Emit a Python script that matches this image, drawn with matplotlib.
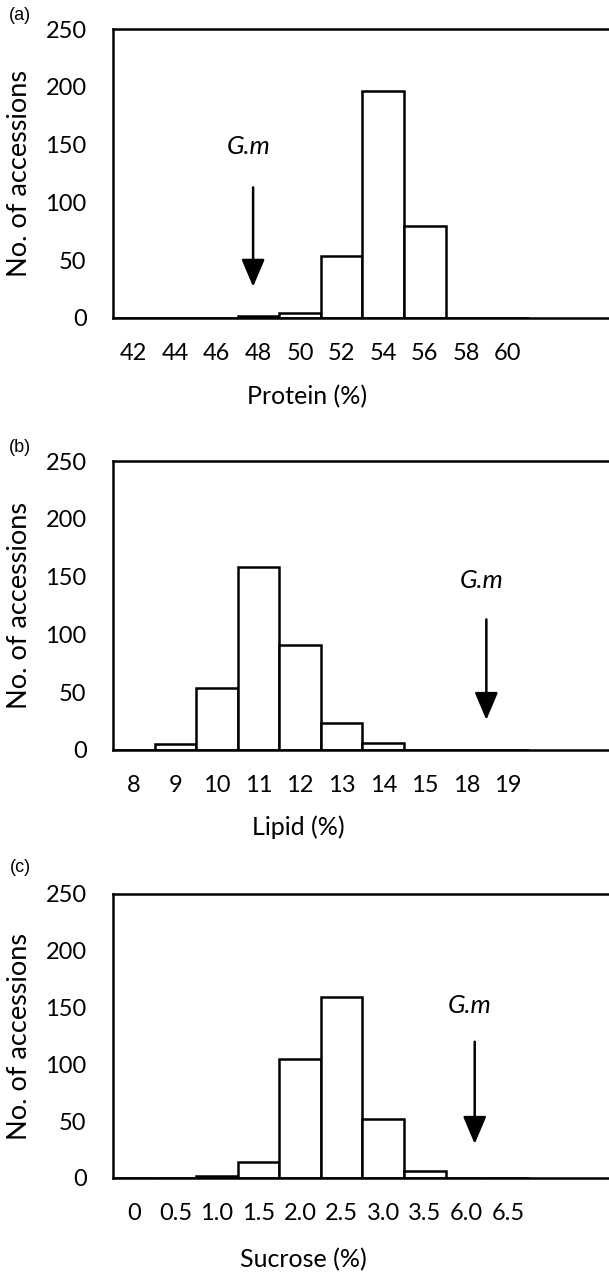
import matplotlib
matplotlib.use("Agg")
import matplotlib.pyplot as plt
import numpy as np

plt.rcParams["font.family"] = ["Lato", "DejaVu Sans"]

# panel data (histogram counts per class)
protein_labels = ["42", "44", "46", "48", "50", "52", "54", "56", "58", "60"]
protein_counts = [0, 0, 0, 1.5, 4.5, 54, 196, 80, 0, 0]

lipid_labels = ["8", "9", "10", "11", "12", "13", "14", "15", "18", "19"]
lipid_counts = [0, 5, 54, 158, 91, 23, 6, 0, 0, 0]

sucrose_labels = ["0", "0.5", "1.0", "1.5", "2.0", "2.5", "3.0", "3.5", "6.0", "6.5"]
sucrose_counts = [0, 0, 1.5, 14.5, 105, 159, 52, 6, 0, 0]

# G.m arrow: x position (class index), arrow top, arrow tip, text height
gm_protein = (2.87, 113, 27, 148)
gm_lipid = (8.48, 113, 26, 147)
gm_sucrose = (8.2, 120, 30, 152)

W, H = 609, 1277
fig = plt.figure(figsize=(W / 100, H / 100), dpi=100)

panels = [
    ("(a)", protein_labels, protein_counts, "Protein (%)", gm_protein, 29, 318, 15, 307, 0.232),
    ("(b)", lipid_labels, lipid_counts, "Lipid (%)", gm_lipid, 461, 750, 448, 298, 0.228),
    ("(c)", sucrose_labels, sucrose_counts, "Sucrose (%)", gm_sucrose, 894, 1178, 867, 303, 0.245),
]

for tag, labels, counts, xlabel, gm, top, bottom, tag_y, xlab_x, xlab_y in panels:
    left = 113
    ax = fig.add_axes([left / W, 1 - bottom / H, (W - left) / W, (bottom - top) / H])

    x = np.arange(len(labels))
    ax.bar(x, counts, width=1.0, color="white", edgecolor="black", linewidth=1.8, zorder=2)

    ax.set_xlim(-0.5, (W - 133.5) / 41.6)
    ax.set_ylim(0, 250)
    ax.set_xticks(x)
    ax.set_xticklabels(labels)
    ax.set_yticks([0, 50, 100, 150, 200, 250])
    ax.tick_params(length=0, labelsize=17)
    ax.tick_params(axis="y", pad=19)
    ax.tick_params(axis="x", pad=18)

    for s in ["left", "top", "bottom"]:
        ax.spines[s].set_linewidth(1.8)
    ax.spines["right"].set_visible(False)

    ax.set_ylabel("No. of accessions", fontsize=19.5)
    ax.yaxis.set_label_coords((32 - left) / (W - left), 0.5)
    ax.set_xlabel(xlabel, fontsize=18)
    ax.xaxis.set_label_coords((xlab_x - left) / (W - left), -xlab_y)

    gx, g_top, g_tip, g_text = gm
    ax.annotate(
        "",
        xy=(gx, g_tip),
        xytext=(gx, g_top),
        arrowprops=dict(arrowstyle="-|>,head_width=0.36,head_length=0.85",
                        color="black", lw=1.8, mutation_scale=20, shrinkA=0, shrinkB=0),
    )
    ax.text(gx - 0.12, g_text, "G.m", fontsize=18.5, style="italic", ha="center", va="center")

    fig.text(20 / W, 1 - tag_y / H, tag, fontsize=13, family="Liberation Sans",
             ha="center", va="center")

fig.savefig("out.png", dpi=100)
